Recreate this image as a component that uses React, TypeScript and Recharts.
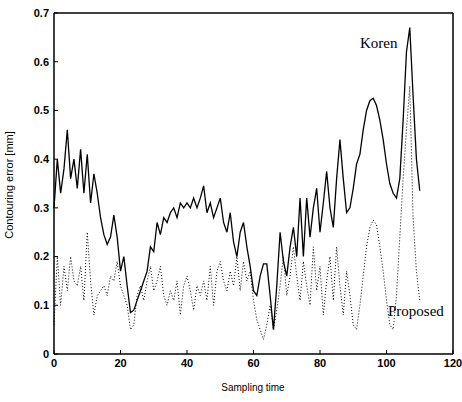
import React from 'react';
import { LineChart, Line, XAxis, YAxis, Customized } from 'recharts';

// sampling instants 0..110
const sampleTimes: number[] = Array.from({ length: 111 }, (_, i) => i);

// contouring error [mm]
const korenError: number[] = [
  0.30, 0.40, 0.33, 0.38, 0.46, 0.36, 0.40, 0.34, 0.42, 0.33,
  0.41, 0.31, 0.37, 0.33, 0.28, 0.245, 0.225, 0.24, 0.285, 0.24,
  0.17, 0.20, 0.14, 0.085, 0.09, 0.11, 0.13, 0.15, 0.17, 0.22,
  0.21, 0.27, 0.245, 0.28, 0.27, 0.29, 0.30, 0.28, 0.31, 0.30,
  0.31, 0.30, 0.32, 0.30, 0.32, 0.345, 0.29, 0.31, 0.28, 0.30,
  0.32, 0.27, 0.25, 0.29, 0.23, 0.20, 0.25, 0.27, 0.22, 0.18,
  0.13, 0.12, 0.16, 0.185, 0.185, 0.12, 0.05, 0.14, 0.25, 0.19,
  0.16, 0.22, 0.26, 0.20, 0.32, 0.20, 0.32, 0.24, 0.30, 0.34,
  0.25, 0.31, 0.375, 0.30, 0.26, 0.36, 0.44, 0.36, 0.29, 0.30,
  0.34, 0.39, 0.41, 0.46, 0.50, 0.52, 0.525, 0.51, 0.48, 0.44,
  0.39, 0.35, 0.33, 0.32, 0.36, 0.48, 0.62, 0.67, 0.53, 0.40,
  0.335,
];

const proposedError: number[] = [
  0.06, 0.20, 0.10, 0.18, 0.13, 0.20, 0.15, 0.14, 0.18, 0.11,
  0.25, 0.15, 0.08, 0.12, 0.13, 0.14, 0.12, 0.16, 0.15, 0.19,
  0.14, 0.12, 0.10, 0.05, 0.06, 0.12, 0.14, 0.11, 0.15, 0.18,
  0.13, 0.15, 0.18, 0.12, 0.10, 0.13, 0.11, 0.15, 0.08, 0.14,
  0.16, 0.13, 0.09, 0.14, 0.12, 0.15, 0.11, 0.18, 0.10, 0.17,
  0.19, 0.15, 0.13, 0.17, 0.14, 0.20, 0.13, 0.19, 0.15, 0.17,
  0.11, 0.07, 0.05, 0.03, 0.06, 0.10, 0.05, 0.09, 0.14, 0.20,
  0.12, 0.16, 0.22, 0.16, 0.11, 0.19, 0.14, 0.10, 0.22, 0.13,
  0.18, 0.08, 0.15, 0.20, 0.11, 0.22, 0.14, 0.08, 0.17, 0.12,
  0.06, 0.05, 0.10, 0.16, 0.22, 0.26, 0.275, 0.265, 0.22, 0.17,
  0.11, 0.06, 0.05, 0.12, 0.24, 0.36, 0.46, 0.55, 0.28, 0.17,
  0.11,
];

const xTicks = [0, 20, 40, 60, 80, 100, 120];
const yTicks = [0, 0.1, 0.2, 0.3, 0.4, 0.5, 0.6, 0.7];

const data = sampleTimes.map((t, i) => ({
  t,
  koren: korenError[i],
  proposed: proposedError[i],
}));

const tickStyle = { fontSize: 11, fill: '#000', fontFamily: 'Liberation Sans, Arial, sans-serif', fontWeight: 'bold' };
const axisStroke = { stroke: '#000', strokeWidth: 1.5 };

const Annotations = () => (
  <g>
    <text x={360} y={48} fontSize={15} fontFamily="Liberation Serif, Times New Roman, serif" fill="#000">Koren</text>
    <text x={388} y={316} fontSize={15} fontFamily="Liberation Serif, Times New Roman, serif" fill="#000">Proposed</text>
    <text x={253} y={391} textAnchor="middle" fontSize={10} fontFamily="Liberation Sans, Arial, sans-serif" fill="#000">Sampling time</text>
    <text x={0} y={0} transform="translate(13,185) rotate(-90)" textAnchor="middle" fontSize={11} fontFamily="Liberation Sans, Arial, sans-serif" fill="#000">Contouring error [mm]</text>
  </g>
);

export default function App() {
  return (
    <div style={{ position: 'absolute', left: 0, top: 0, background: '#fff' }}>
      <LineChart width={462} height={402} data={data} margin={{ top: 12, right: 8, bottom: 18, left: 14 }}>
        <XAxis dataKey="t" type="number" domain={[0, 120]} ticks={xTicks} interval={0}
          axisLine={axisStroke} tickLine={{ stroke: '#000' }} tickSize={-4} tickMargin={9}
          tick={tickStyle} height={30} />
        <XAxis xAxisId="top" orientation="top" dataKey="t" type="number" domain={[0, 120]} ticks={xTicks}
          axisLine={axisStroke} tickLine={{ stroke: '#000' }} tickSize={-4} tick={false} height={1} />
        <YAxis type="number" domain={[0, 0.7]} ticks={yTicks} interval={0}
          axisLine={axisStroke} tickLine={{ stroke: '#000' }} tickSize={-4} tickMargin={9}
          tick={tickStyle} width={40} />
        <YAxis yAxisId="right" orientation="right" type="number" domain={[0, 0.7]} ticks={yTicks}
          axisLine={axisStroke} tickLine={{ stroke: '#000' }} tickSize={-4} tick={false} width={1} />
        <Line dataKey="proposed" type="linear" stroke="#000" strokeWidth={1} strokeDasharray="1 2"
          dot={false} isAnimationActive={false} />
        <Line dataKey="koren" type="linear" stroke="#000" strokeWidth={1.3}
          dot={false} isAnimationActive={false} />
        <Customized component={Annotations} />
      </LineChart>
    </div>
  );
}
